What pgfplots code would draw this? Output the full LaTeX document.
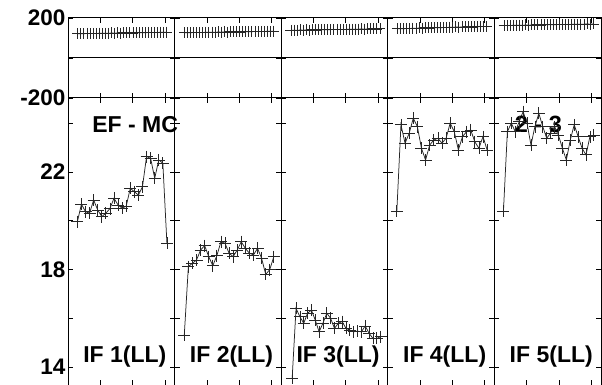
\documentclass[border=0pt]{standalone}
\usepackage{fontspec}
\setmainfont{Liberation Sans}
\usepackage{pgfplots}
\pgfplotsset{compat=1.18}

\pgfplotsset{
  panel/.style={scale only axis, width=106.6pt, anchor=north west,
    xmin=0, xmax=33, xtick={10,20,30}, xticklabels={}, yticklabels={},
    clip=false, axis line style={black, line width=1pt},
    tick style={black, line width=0.8pt}, major tick length=5pt,
    tick label style={font=\fontsize{22.5}{22.5}\selectfont\bfseries},
    yticklabel style={xshift=1pt},
    /pgf/number format/assume math mode=true},
  strip/.style={panel, height=80pt, ymin=-200, ymax=200, ytick={-200,0,200},
    ymajorgrids, major grid style={black, line width=1pt}},
  main/.style={panel, height=287pt, ymin=13.27, ymax=25.03, ytick={14,16,18,20,22,24}},
  sline/.style={black!85, line width=0.75pt, mark=+, mark size=5.5pt, mark options={solid}},
  mline/.style={black!85, line width=0.75pt, mark=+, mark size=6pt, mark options={solid}},
}
\tikzset{lab/.style={font=\fontsize{23}{23}\selectfont\bfseries}}

\begin{document}
\begin{tikzpicture}
% ---- top strips ----
\begin{axis}[strip, at={(68pt,-18pt)}, yticklabels={-200,,200}]
\addplot[sline] table[header=false, row sep=\\, x expr={3.0+0.95*\coordindex}, y index=0]
{121\\122\\121\\123\\122\\123\\122\\124\\123\\124\\123\\125\\124\\125\\124\\126\\125\\126\\125\\127\\126\\127\\126\\128\\127\\128\\127\\129\\128\\129\\};
\end{axis}
\begin{axis}[strip, at={(174.6pt,-18pt)}]
\addplot[sline] table[header=false, row sep=\\, x expr={3.0+0.95*\coordindex}, y index=0]
{126\\127\\126\\128\\127\\128\\127\\129\\128\\129\\128\\130\\129\\130\\129\\131\\130\\131\\130\\132\\131\\132\\131\\133\\132\\133\\132\\134\\133\\134\\};
\end{axis}
\begin{axis}[strip, at={(281.2pt,-18pt)}]
\addplot[sline] table[header=false, row sep=\\, x expr={3.0+0.95*\coordindex}, y index=0]
{138\\139\\138\\140\\139\\140\\139\\141\\140\\141\\141\\142\\141\\142\\142\\143\\142\\143\\143\\144\\143\\144\\144\\145\\144\\145\\145\\146\\145\\146\\};
\end{axis}
\begin{axis}[strip, at={(387.8pt,-18pt)}]
\addplot[sline] table[header=false, row sep=\\, x expr={3.0+0.95*\coordindex}, y index=0]
{146\\147\\146\\148\\147\\149\\148\\150\\149\\151\\150\\151\\151\\152\\151\\153\\152\\154\\153\\155\\154\\155\\155\\156\\155\\157\\156\\158\\157\\158\\};
\end{axis}
\begin{axis}[strip, at={(494.4pt,-18pt)}]
\addplot[sline] table[header=false, row sep=\\, x expr={3.0+0.95*\coordindex}, y index=0]
{162\\163\\162\\164\\163\\164\\163\\165\\164\\165\\165\\166\\165\\166\\166\\167\\166\\167\\167\\168\\167\\168\\168\\169\\168\\169\\169\\170\\169\\170\\};
\end{axis}
% ---- main panels ----
\begin{axis}[main, at={(68pt,-98pt)}, yticklabels={14,,18,,22,}]
\addplot[mline] table[header=false, row sep=\\, x expr={2.9+1.26*\coordindex}, y index=0]
{19.96\\20.68\\20.37\\20.31\\20.85\\20.44\\20.17\\20.31\\20.5\\20.92\\20.65\\20.51\\20.6\\21.33\\21.19\\21.05\\21.4\\22.63\\22.56\\21.74\\22.49\\22.36\\19.08\\};
\node[lab] at (axis cs:20.8,23.95) {EF - MC};
\node[lab] at (axis cs:17.6,14.42) {IF 1(LL)};
\end{axis}
\begin{axis}[main, at={(174.6pt,-98pt)}]
\addplot[mline] table[header=false, row sep=\\, x expr={3.0+1.26*\coordindex}, y index=0]
{15.32\\18.12\\18.26\\18.39\\18.8\\18.98\\18.53\\18.16\\18.57\\19.14\\19.08\\18.67\\18.53\\18.8\\19.14\\18.87\\18.67\\18.6\\18.87\\18.46\\17.8\\18.0\\18.53\\};
\node[lab] at (axis cs:17.6,14.42) {IF 2(LL)};
\end{axis}
\begin{axis}[main, at={(281.2pt,-98pt)}]
\addplot[mline] table[header=false, row sep=\\, x expr={3.4+1.19*\coordindex}, y index=0]
{13.56\\16.41\\16.07\\15.8\\16.21\\16.34\\15.93\\15.45\\15.8\\16.21\\16.0\\15.59\\15.8\\15.87\\15.59\\15.52\\15.45\\15.48\\15.45\\15.69\\15.39\\15.18\\15.18\\15.25\\};
\node[lab] at (axis cs:17.6,14.42) {IF 3(LL)};
\end{axis}
\begin{axis}[main, at={(387.8pt,-98pt)}]
\addplot[mline] table[header=false, row sep=\\, x expr={2.8+1.27*\coordindex}, y index=0]
{20.4\\23.93\\23.18\\23.58\\24.2\\23.86\\22.97\\22.49\\23.1\\23.31\\23.38\\23.18\\23.38\\24.0\\23.65\\22.9\\23.45\\23.65\\23.72\\23.24\\22.97\\23.45\\22.9\\};
\node[lab] at (axis cs:17.6,14.42) {IF 4(LL)};
\end{axis}
\begin{axis}[main, at={(494.4pt,-98pt)}]
\addplot[mline] table[header=false, row sep=\\, x expr={2.8+1.217*\coordindex}, y index=0]
{20.4\\23.65\\24.0\\23.65\\24.06\\24.47\\24.0\\23.1\\23.86\\24.4\\23.86\\23.38\\23.6\\23.86\\23.5\\22.97\\22.49\\23.31\\23.93\\23.45\\22.97\\22.7\\23.45\\23.5\\};
\node[lab] at (axis cs:17.6,14.42) {IF 5(LL)};
\node[font=\fontsize{23.5}{23.5}\selectfont\bfseries] at (axis cs:13.6,23.93) {2 - 3};
\end{axis}
\pgfresetboundingbox
\useasboundingbox (0pt,0pt) rectangle (602pt,-385pt);
\end{tikzpicture}
\end{document}
